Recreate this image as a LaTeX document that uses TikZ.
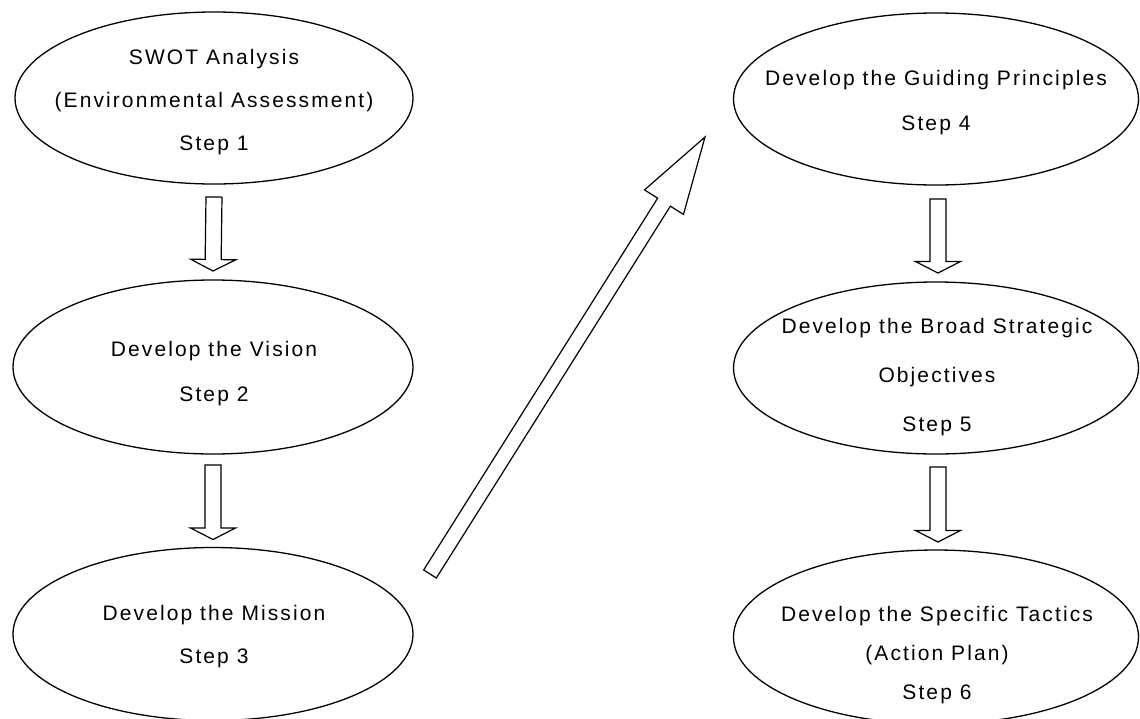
\documentclass[tikz,border=0pt]{standalone}
\usepackage{fontspec}
\setmainfont{Liberation Sans}[LetterSpace=10]
\usetikzlibrary{calc,shapes.geometric}
\newcommand{\hollowarrow}[5]{% #1 tail, #2 tip, #3 shaft half width, #4 head half width, #5 head length
  \coordinate (hb) at ($(#2)!#5!(#1)$);
  \draw[blockarrow] ($(#1)!#3!90:(#2)$) -- ($(hb)!#3!90:(#2)$) -- ($(hb)!#4!90:(#2)$) -- (#2)
    -- ($(hb)!#4!-90:(#2)$) -- ($(hb)!#3!-90:(#2)$) -- ($(#1)!#3!-90:(#2)$) -- cycle;
}
\begin{document}
\begin{tikzpicture}[x=1pt,y=1pt,
  oval/.style={draw, ellipse, line width=1.3pt, inner sep=0pt, outer sep=0pt},
  txt/.style={align=center, font=\fontsize{21}{#1}\selectfont, inner sep=0pt},
  txt/.default=44,
  blockarrow/.style={draw, line width=1.2pt, line join=miter, fill=white}]
\useasboundingbox (0,0) rectangle (1140,-718);
\begin{scope}
\clip (0,0) rectangle (1140,-718);
% left column
\node[oval, minimum width=398pt, minimum height=172pt] (e1) at (214,-98) {};
\node[txt=43] (t1) at (214,-102) {SWOT Analysis\\(Environmental Assessment)\\Step 1};
\node[oval, minimum width=400pt, minimum height=174pt] (e2) at (213,-367) {};
\node[txt=45] (t2) at (214,-374) {Develop the Vision\\Step 2};
\node[oval, minimum width=400pt, minimum height=173pt] (e3) at (213,-634) {};
\node[txt=43] (t3) at (214,-637) {Develop the Mission\\Step 3};
% right column
\node[oval, minimum width=405pt, minimum height=172pt] (e4) at (936,-99) {};
\node[txt=45] (t4) at (936,-103) {Develop the Guiding Principles\\Step 4};
\node[oval, minimum width=405pt, minimum height=172pt] (e5) at (936,-368) {};
\node[txt=49] (t5) at (937,-377) {Develop the Broad Strategic\\Objectives\\Step 5};
\node[oval, minimum width=405pt, minimum height=174pt] (e6) at (936,-637) {};
\node[txt=39] (t6) at (937,-655) {Develop the Specific Tactics\\(Action Plan)\\Step 6};
\end{scope}
% vertical block arrows
\coordinate (a1t) at ($(e1.south)+(0,-13)$);
\coordinate (a1h) at ($(e2.north)+(0,9)$);
\hollowarrow{a1t}{a1h}{8pt}{22.5pt}{11.5pt}
\coordinate (a2t) at ($(e2.south)+(0,-11)$);
\coordinate (a2h) at ($(e3.north)+(0,8)$);
\hollowarrow{a2t}{a2h}{8pt}{22.5pt}{11.5pt}
\coordinate (a4t) at ($(e4.south)+(2,-14)$);
\coordinate (a4h) at ($(e5.north)+(2,9)$);
\hollowarrow{a4t}{a4h}{8pt}{22.5pt}{11.5pt}
\coordinate (a5t) at ($(e5.south)+(2,-13)$);
\coordinate (a5h) at ($(e6.north)+(2,8)$);
\hollowarrow{a5t}{a5h}{8pt}{22.5pt}{11.5pt}
% diagonal block arrow from step 3 to step 4
\coordinate (dtail) at (430,-574);
\coordinate (dtip) at (705,-137);
\hollowarrow{dtail}{dtip}{7.5pt}{23pt}{77pt}
\end{tikzpicture}
\end{document}
